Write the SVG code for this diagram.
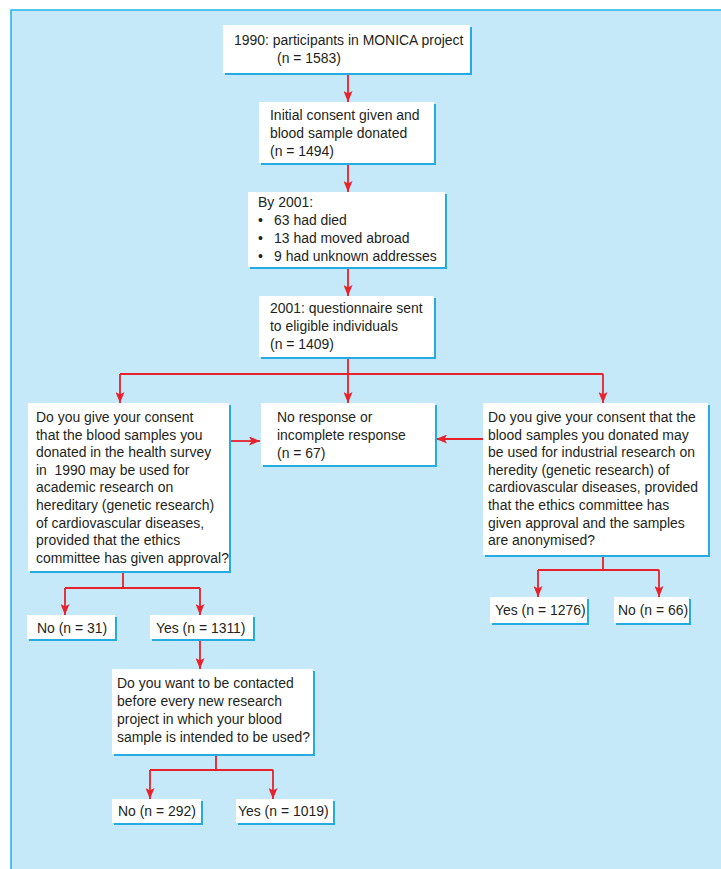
<svg xmlns="http://www.w3.org/2000/svg" width="721" height="869" viewBox="0 0 721 869">
<defs>
<marker id="ah" markerUnits="userSpaceOnUse" markerWidth="11" markerHeight="9" viewBox="0 0 11 9" refX="11" refY="4.5" orient="auto">
<path d="M0,0 L11,4.5 L0,9 L2.5,4.5 z" fill="#e8212b"/>
</marker>
<style>
.sh{fill:#25aae1}
.bx{fill:#ffffff}
.t{font-family:"Liberation Sans",Arial,sans-serif;font-size:15.5px;fill:#231f20}
.c{fill:none;stroke:#e8212b;stroke-width:1.8}
.ca{fill:none;stroke:#e8212b;stroke-width:1.8;marker-end:url(#ah)}
</style>
</defs>
<rect x="0" y="0" width="721" height="869" fill="#ffffff"/>
<rect x="11" y="10" width="712" height="862" fill="#c6e9f9" stroke="#1db4ec" stroke-width="1.5"/>

<g id="connectors">
<path class="ca" d="M348,73 V102"/>
<path class="ca" d="M348,163 V192"/>
<path class="ca" d="M348,267 V296"/>
<path class="c" d="M348,357 V374 M120,374 H603"/>
<path class="ca" d="M120,374 V403"/>
<path class="ca" d="M348,374 V403"/>
<path class="ca" d="M603,374 V403"/>
<path class="ca" d="M229,441 H260"/>
<path class="ca" d="M483,439 H436"/>
<path class="c" d="M123,571 V588 M65,588 H200"/>
<path class="ca" d="M65,588 V615"/>
<path class="ca" d="M200,588 V615"/>
<path class="ca" d="M200,639 V669"/>
<path class="c" d="M216,754 V770 M150,770 H273"/>
<path class="ca" d="M150,770 V799"/>
<path class="ca" d="M273,770 V799"/>
<path class="c" d="M603,555 V570 M538,570 H659"/>
<path class="ca" d="M538,570 V597"/>
<path class="ca" d="M659,570 V597"/>
</g>

<g id="n1990">
<rect class="sh" x="225" y="27" width="247" height="48"/>
<rect class="bx" x="223" y="25" width="247" height="48"/>
<text class="t" transform="translate(234,45) scale(0.9,1)">1990: participants in MONICA project</text>
<text class="t" transform="translate(277,63) scale(0.9,1)">(n = 1583)</text>
</g>

<g id="consent1990">
<rect class="sh" x="261" y="104" width="175" height="61"/>
<rect class="bx" x="259" y="102" width="175" height="61"/>
<text class="t" transform="translate(270,120) scale(0.9,1)">Initial consent given and</text>
<text class="t" transform="translate(270,138) scale(0.9,1)">blood sample donated</text>
<text class="t" transform="translate(270,156) scale(0.9,1)">(n = 1494)</text>
</g>

<g id="by2001">
<rect class="sh" x="250" y="194" width="197" height="75"/>
<rect class="bx" x="248" y="192" width="197" height="75"/>
<text class="t" transform="translate(258,207) scale(0.9,1)">By 2001:</text>
<text class="t" transform="translate(258,225) scale(0.9,1)">•</text>
<text class="t" transform="translate(274,225) scale(0.9,1)">63 had died</text>
<text class="t" transform="translate(258,243) scale(0.9,1)">•</text>
<text class="t" transform="translate(274,243) scale(0.9,1)">13 had moved abroad</text>
<text class="t" transform="translate(258,261) scale(0.9,1)">•</text>
<text class="t" transform="translate(274,261) scale(0.9,1)">9 had unknown addresses</text>
</g>

<g id="questionnaire">
<rect class="sh" x="261" y="298" width="175" height="61"/>
<rect class="bx" x="259" y="296" width="175" height="61"/>
<text class="t" transform="translate(270,313) scale(0.9,1)">2001: questionnaire sent</text>
<text class="t" transform="translate(270,331) scale(0.9,1)">to eligible individuals</text>
<text class="t" transform="translate(270,349) scale(0.9,1)">(n = 1409)</text>
</g>

<g id="academic">
<rect class="sh" x="30" y="405" width="201" height="168"/>
<rect class="bx" x="28" y="403" width="201" height="168"/>
<text class="t" transform="translate(36,422) scale(0.9,1)">Do you give your consent</text>
<text class="t" transform="translate(36,439.6) scale(0.9,1)">that the blood samples you</text>
<text class="t" transform="translate(36,457.2) scale(0.9,1)">donated in the health survey</text>
<text class="t" transform="translate(36,474.8) scale(0.9,1)" xml:space="preserve">in  1990 may be used for</text>
<text class="t" transform="translate(36,492.4) scale(0.9,1)">academic research on</text>
<text class="t" transform="translate(36,510) scale(0.9,1)">hereditary (genetic research)</text>
<text class="t" transform="translate(36,527.6) scale(0.9,1)">of cardiovascular diseases,</text>
<text class="t" transform="translate(36,545.2) scale(0.9,1)">provided that the ethics</text>
<text class="t" transform="translate(36,562.8) scale(0.9,1)">committee has given approval?</text>
</g>

<g id="noresponse">
<rect class="sh" x="263" y="405" width="174" height="62"/>
<rect class="bx" x="261" y="403" width="174" height="62"/>
<text class="t" transform="translate(277,422) scale(0.9,1)">No response or</text>
<text class="t" transform="translate(277,440) scale(0.9,1)">incomplete response</text>
<text class="t" transform="translate(277,458) scale(0.9,1)">(n = 67)</text>
</g>

<g id="industrial">
<rect class="sh" x="485" y="405" width="225" height="152"/>
<rect class="bx" x="483" y="403" width="225" height="152"/>
<text class="t" transform="translate(488,422) scale(0.9,1)">Do you give your consent that the</text>
<text class="t" transform="translate(488,439.6) scale(0.9,1)">blood samples you donated may</text>
<text class="t" transform="translate(488,457.2) scale(0.9,1)">be used for industrial research on</text>
<text class="t" transform="translate(488,474.8) scale(0.9,1)">heredity (genetic research) of</text>
<text class="t" transform="translate(488,492.4) scale(0.9,1)">cardiovascular diseases, provided</text>
<text class="t" transform="translate(488,510) scale(0.9,1)">that the ethics committee has</text>
<text class="t" transform="translate(488,527.6) scale(0.9,1)">given approval and the samples</text>
<text class="t" transform="translate(488,545.2) scale(0.9,1)">are anonymised?</text>
</g>

<g id="no31">
<rect class="sh" x="29" y="617" width="88" height="24"/>
<rect class="bx" x="27" y="615" width="88" height="24"/>
<text class="t" transform="translate(37,633) scale(0.9,1)">No (n = 31)</text>
</g>

<g id="yes1311">
<rect class="sh" x="152" y="617" width="103" height="24"/>
<rect class="bx" x="150" y="615" width="103" height="24"/>
<text class="t" transform="translate(156,633) scale(0.9,1)">Yes (n = 1311)</text>
</g>

<g id="yes1276">
<rect class="sh" x="492" y="599" width="97" height="26"/>
<rect class="bx" x="490" y="597" width="97" height="26"/>
<text class="t" transform="translate(495,615) scale(0.9,1)">Yes (n = 1276)</text>
</g>

<g id="no66">
<rect class="sh" x="616" y="599" width="75" height="26"/>
<rect class="bx" x="614" y="597" width="75" height="26"/>
<text class="t" transform="translate(618,615) scale(0.9,1)">No (n = 66)</text>
</g>

<g id="contact">
<rect class="sh" x="114" y="671" width="201" height="85"/>
<rect class="bx" x="112" y="669" width="201" height="85"/>
<text class="t" transform="translate(117,688) scale(0.9,1)">Do you want to be contacted</text>
<text class="t" transform="translate(117,706) scale(0.9,1)">before every new research</text>
<text class="t" transform="translate(117,724) scale(0.9,1)">project in which your blood</text>
<text class="t" transform="translate(117,742) scale(0.9,1)">sample is intended to be used?</text>
</g>

<g id="no292">
<rect class="sh" x="114" y="801" width="89" height="24"/>
<rect class="bx" x="112" y="799" width="89" height="24"/>
<text class="t" transform="translate(118,816) scale(0.9,1)">No (n = 292)</text>
</g>

<g id="yes1019">
<rect class="sh" x="238" y="801" width="97" height="24"/>
<rect class="bx" x="236" y="799" width="97" height="24"/>
<text class="t" transform="translate(238,816) scale(0.9,1)">Yes (n = 1019)</text>
</g>
</svg>
